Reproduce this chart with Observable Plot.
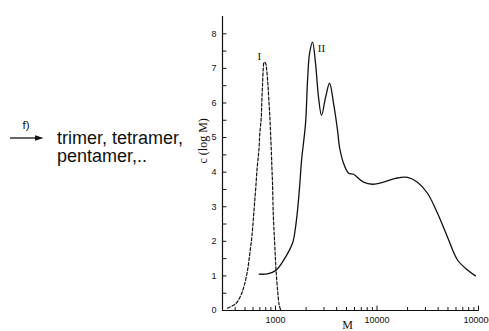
<!DOCTYPE html>
<html>
<head>
<meta charset="utf-8">
<script src="https://cdn.jsdelivr.net/npm/d3@7"></script>
<script src="https://cdn.jsdelivr.net/npm/@observablehq/plot@0.6"></script>
<style>
  html, body { margin: 0; padding: 0; background: #fff; }
  #wrap { position: relative; width: 489px; height: 331px; overflow: hidden; background: #fff; }
  #chart { position: absolute; left: 0; top: 0; }
  #note { position: absolute; left: 0; top: 0; }
  #note text { fill: #111; }
  #scheme { position: absolute; left: 57px; top: 129px; font-family: "Liberation Sans", Arial, sans-serif; font-size: 18px; line-height: 18.3px; color: #111; white-space: nowrap; }
</style>
</head>
<body>
<div id="wrap">
  <div id="chart"></div>
  <svg id="note" width="60" height="160">
    <text x="22.5" y="129" font-family="Liberation Sans, Arial, sans-serif" font-size="11.5" style="fill:#111">f)</text>
    <line x1="10" y1="138" x2="37" y2="138" stroke="#111" stroke-width="1.3"/>
    <path d="M35,135.3 L43.5,138 L35,140.7 Z" fill="#111"/>
  </svg>
  <div id="scheme">trimer, tetramer,<br>pentamer,..</div>
</div>
<script>
// Curve I (dashed): molar mass M and c(log M)
const curveI_M = [336, 406, 455, 492, 530, 558, 584, 603, 621, 640, 660, 685, 700, 723, 733, 745, 757, 771, 797, 815, 839, 859, 879, 893, 908, 920, 934, 948, 977, 1007, 1047, 1087, 1128];
const curveI_c = [0.07, 0.2, 0.44, 0.73, 1.17, 1.66, 2.13, 2.61, 3.1, 3.6, 4.15, 4.63, 5.12, 5.59, 6.08, 6.57, 7.0, 7.18, 7.15, 6.99, 6.57, 6.08, 5.59, 5.12, 4.63, 4.15, 3.67, 2.85, 2.03, 1.26, 0.59, 0.15, 0.0];

// Curve II (solid)
const curveII_M = [690, 834, 1007, 1199, 1471, 1574, 1647, 1724, 1804, 1975, 2066, 2163, 2315, 2478, 2652, 2839, 3109, 3405, 3728, 4082, 4271, 4677, 5240, 5866, 7362, 9029, 11590, 15210, 19960, 25050, 31440, 39460, 49530, 62140, 77980, 93370];
const curveII_c = [1.05, 1.06, 1.16, 1.45, 1.95, 2.41, 2.90, 3.56, 4.34, 5.41, 6.65, 7.43, 7.76, 7.14, 6.16, 5.64, 6.16, 6.57, 5.99, 5.21, 4.72, 4.26, 3.97, 3.94, 3.71, 3.65, 3.71, 3.82, 3.85, 3.71, 3.39, 2.81, 2.12, 1.46, 1.17, 1.0];

// Axis ticks and labels
const xTickLabels = [1000, 10000, 100000];
const xMinorTicks = [400, 500, 600, 700, 800, 900, 2000, 3000, 4000, 5000, 6000, 7000, 8000, 9000, 20000, 30000, 40000, 50000, 60000, 70000, 80000, 90000];
const yTickLabels = [0, 1, 2, 3, 4, 5, 6, 7, 8];
const yTicks = [0.5, 1, 1.5, 2, 2.5, 3, 3.5, 4, 4.5, 5, 5.5, 6, 6.5, 7, 7.5, 8];

// Curve labels
const curveLabels = [
  {label: "I", M: 690, c: 7.35},
  {label: "II", M: 2838, c: 7.58}
];

const dataI = curveI_M.map((M, i) => ({M, c: curveI_c[i]}));
const dataII = curveII_M.map((M, i) => ({M, c: curveII_c[i]}));

const tickShape = {
  draw(context, l) {
    context.moveTo(0, 0);
    context.lineTo(0, -l);
  }
};

const chart = Plot.plot({
  width: 489,
  height: 331,
  marginLeft: 222,
  marginRight: 11,
  marginTop: 16,
  marginBottom: 21,
  style: {fontFamily: "Liberation Sans, Arial, sans-serif", fontSize: "9px", background: "transparent", color: "#111"},
  x: {type: "log", domain: [300, 100000]},
  y: {domain: [0, 8.5]},
  marks: [
    Plot.ruleX([300], {stroke: "#111", strokeWidth: 1.2}),
    Plot.ruleY([0], {stroke: "#111", strokeWidth: 1.2}),
    Plot.vector(yTicks, {y: d => d, frameAnchor: "left", length: 3.5, rotate: 90, anchor: "start", shape: tickShape, stroke: "#111", strokeWidth: 1}),
    Plot.vector(xMinorTicks, {x: d => d, frameAnchor: "bottom", length: 3, rotate: 0, anchor: "start", shape: tickShape, stroke: "#111", strokeWidth: 1}),
    Plot.vector(xTickLabels, {x: d => d, frameAnchor: "bottom", length: 4.5, rotate: 0, anchor: "start", shape: tickShape, stroke: "#111", strokeWidth: 1}),
    Plot.axisY(yTickLabels, {tickSize: 0, tickPadding: 6, label: null, fontSize: 9}),
    Plot.axisX(xTickLabels, {tickSize: 0, tickPadding: 6, label: null, fontSize: 9, tickFormat: d => String(d)}),
    Plot.line(dataI, {x: "M", y: "c", curve: "catmull-rom", stroke: "#111", strokeWidth: 1.2, strokeDasharray: "3,2"}),
    Plot.line(dataII, {x: "M", y: "c", curve: "catmull-rom", stroke: "#111", strokeWidth: 1.3}),
    Plot.text(curveLabels, {x: "M", y: "c", text: "label", fontFamily: "Liberation Serif, Times New Roman, serif", fontSize: 11, fill: "#111"}),
    Plot.text(["c (log M)"], {frameAnchor: "left", dx: -19, rotate: -90, fontFamily: "Liberation Serif, Times New Roman, serif", fontSize: 12, fill: "#111"}),
    Plot.text(["M"], {frameAnchor: "bottom", dx: -3, dy: 18, fontFamily: "Liberation Serif, Times New Roman, serif", fontSize: 12, fill: "#111"})
  ]
});
document.getElementById("chart").appendChild(chart);
</script>
</body>
</html>
